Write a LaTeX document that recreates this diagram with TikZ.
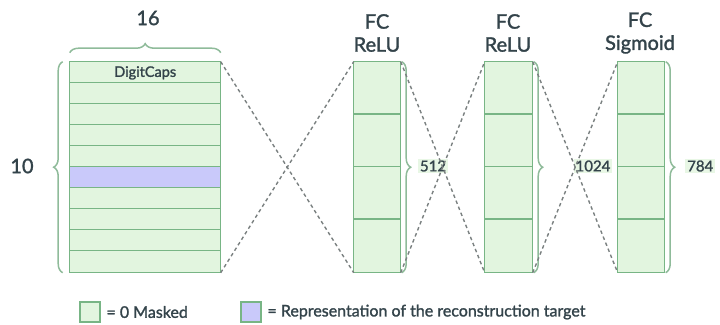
\documentclass[tikz,border=0pt]{standalone}
\usepackage{fontspec}
\setmainfont{Lato}
\newfontfamily\labelfont{Lato}[FakeBold=1.5]
\usepackage{tikz}
\usetikzlibrary{
  matrix,
  positioning,
  decorations.pathreplacing
}
\definecolor{cellgreen}{HTML}{E2F5DF}
\definecolor{linegreen}{HTML}{78B585}
\definecolor{cellblue}{HTML}{C9C9FA}
\definecolor{textgrey}{HTML}{33434A}
\definecolor{bracegreen}{HTML}{8FBB9A}
\definecolor{dashgrey}{HTML}{7A8080}

\begin{document}
\begin{tikzpicture}[
      x=1pt,y=-1pt,
      cell/.style={
         rectangle,
         draw=linegreen,
         fill=cellgreen,
         line width=1.4pt,
         inner sep=0pt,
         outer sep=0pt,
         text=textgrey,
         font=\labelfont\fontsize{14.5}{16}\selectfont
      },
      capsrow/.style={cell, minimum width=151pt, minimum height=22.36pt},
      fcrow/.style={cell, minimum width=#1, minimum height=53.8pt},
      target/.style={fill=cellblue},
      layer/.style={row sep=-2.8pt, inner sep=0pt, outer sep=0pt},
      brace/.style={
         draw=bracegreen, line width=1.5pt,
         decorate, decoration={brace, amplitude=9pt}
      },
      link/.style={draw=dashgrey, line width=1.4pt, dash pattern=on 3.5pt off 3pt},
      title/.style={text=textgrey, align=center,
         font=\labelfont\fontsize{20}{23}\selectfont},
      size/.style={text=textgrey, fill=cellgreen!80, inner sep=2pt,
         font=\labelfont\fontsize{15}{17}\selectfont},
      keytext/.style={text=textgrey, font=\labelfont\fontsize{16}{19}\selectfont}
    ]
    \useasboundingbox (0,0) rectangle (720,324);
    % DigitCaps
    \matrix (caps) [layer, anchor=north west] at (69,61) {
      \node (c1) [capsrow] {DigitCaps}; \\
      \node (c2) [capsrow] {}; \\
      \node (c3) [capsrow] {}; \\
      \node (c4) [capsrow] {}; \\
      \node (c5) [capsrow] {}; \\
      \node (c6) [capsrow, target] {}; \\
      \node (c7) [capsrow] {}; \\
      \node (c8) [capsrow] {}; \\
      \node (c9) [capsrow] {}; \\
      \node (c10) [capsrow] {}; \\
    };
    % FC layers
    \matrix (fc1) [layer, anchor=north west] at (353,61) {
      \node (f1a) [fcrow=47pt] {}; \\
      \node (f1b) [fcrow=47pt] {}; \\
      \node (f1c) [fcrow=47pt] {}; \\
      \node (f1d) [fcrow=47pt] {}; \\
    };
    \matrix (fc2) [layer, anchor=north west] at (484,61) {
      \node (f2a) [fcrow=48pt] {}; \\
      \node (f2b) [fcrow=48pt] {}; \\
      \node (f2c) [fcrow=48pt] {}; \\
      \node (f2d) [fcrow=48pt] {}; \\
    };
    \matrix (fc3) [layer, anchor=north west] at (617,61) {
      \node (f3a) [fcrow=47pt] {}; \\
      \node (f3b) [fcrow=47pt] {}; \\
      \node (f3c) [fcrow=47pt] {}; \\
      \node (f3d) [fcrow=47pt] {}; \\
    };
    % titles
    \node (t1) [title] at (377,33) {FC\\ReLU};
    \node (t2) [title] at (508,33) {FC\\ReLU};
    \node (t3) [title] at (640,33) {FC\\Sigmoid};
    % braces
    \draw [brace] ([yshift=9pt]c1.north west) -- ([yshift=9pt]c1.north east);
    \draw [brace] ([xshift=-7pt]c10.south west) -- ([xshift=-7pt]c1.north west);
    \draw [brace] ([xshift=1pt]f1a.north east) -- ([xshift=1pt]f1d.south east);
    \draw [brace] ([xshift=1pt]f2a.north east) -- ([xshift=1pt]f2d.south east);
    \draw [brace] ([xshift=1pt]f3a.north east) -- ([xshift=1pt]f3d.south east);
    \node (n16) [title] at (148,18) {16};
    \node (n10) [title] at (22,166) {10};
    \node (n512) [size] at (433,166) {512};
    \node (n1024) [size] at (593,166) {1024};
    \node (n784) [size, anchor=west] at (685,166) {784};
    % dashed links
    \draw [link] (c1.north east) -- (f1d.south west);
    \draw [link] (c10.south east) -- (f1a.north west);
    \draw [link] (f1a.north east) -- (f2d.south west);
    \draw [link] (f1d.south east) -- (f2a.north west);
    \draw [link] (f2a.north east) -- (f3d.south west);
    \draw [link] (f2d.south east) -- (f3a.north west);
    % legend
    \node (k1) [cell, minimum size=20pt] at (90,312) {};
    \node (k1t) [keytext, right=3pt of k1] {= 0 Masked};
    \node (k2) [cell, target, minimum size=20pt] at (251,312) {};
    \node (k2t) [keytext, right=3pt of k2] {= Representation of the reconstruction target};
\end{tikzpicture}
\end{document}
